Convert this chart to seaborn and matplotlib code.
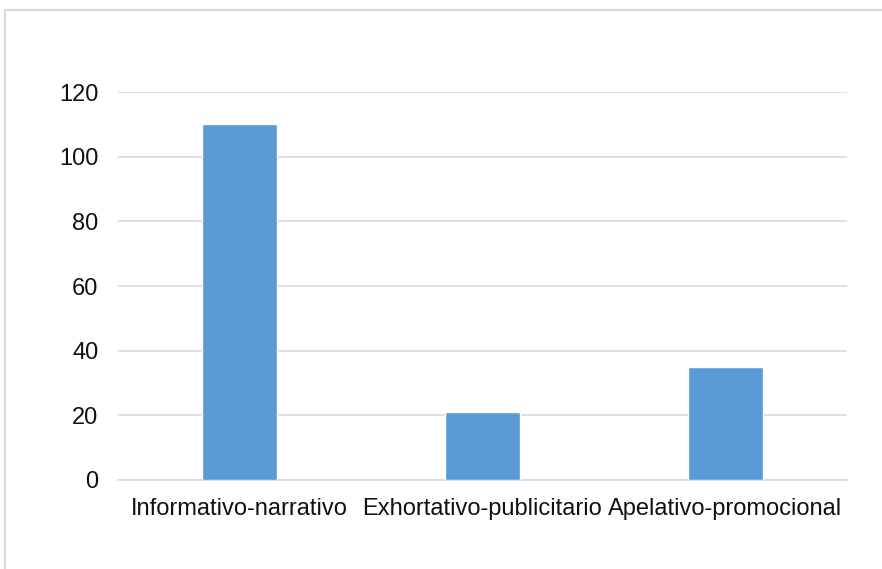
import matplotlib
matplotlib.use("Agg")
import matplotlib.pyplot as plt
import seaborn as sns
import pandas as pd
from matplotlib.patches import Rectangle

# data
categories = ["Informativo-narrativo", "Exhortativo-publicitario", "Apelativo-promocional"]
values = [110, 21, 35]

df = pd.DataFrame({"Categoria": categories, "Valor": values})

sns.set_theme(style="white")
plt.rcParams["font.family"] = ["Liberation Sans", "DejaVu Sans"]

fig = plt.figure(figsize=(8.82, 5.69), dpi=100)
ax = fig.add_axes([118 / 882, 1 - 480 / 569, (847 - 118) / 882, (480 - 92) / 569])

sns.barplot(x="Categoria", y="Valor", data=df, color="#5b9bd5", width=0.31,
            saturation=1, ax=ax, zorder=3)

ax.set_ylim(0, 120)
ax.set_yticks(range(0, 121, 20))
ax.set_xlim(-0.5, 2.5)
ax.grid(axis="y", color="#d9d9d9", linewidth=1.2, zorder=0)
for s in ["top", "right", "left"]:
    ax.spines[s].set_visible(False)
ax.spines["bottom"].set_color("#d9d9d9")
ax.spines["bottom"].set_linewidth(1.2)
ax.set_xlabel("")
ax.set_ylabel("")
ax.tick_params(axis="y", length=0, pad=14, labelsize=17, labelcolor="#111111")
ax.tick_params(axis="x", length=0, pad=13, labelsize=17, labelcolor="#111111")

# chart area border
fig.patches.append(Rectangle((5 / 882, -0.1), 1.1, 1 - 10 / 569 + 0.1, transform=fig.transFigure,
                             fill=False, edgecolor="#d9d9d9", linewidth=1.5))

fig.savefig("out.png", dpi=100)
